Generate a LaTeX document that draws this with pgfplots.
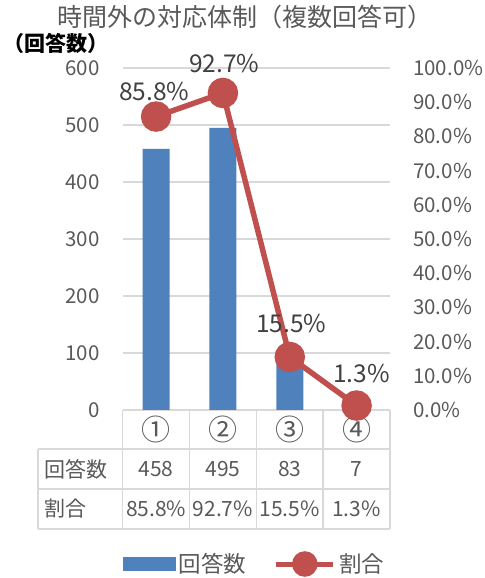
\documentclass[border=0pt]{standalone}
\usepackage{fontspec}
\setmainfont{Noto Sans CJK JP}
\usepackage{pgfplots}
\pgfplotsset{compat=1.18}
\definecolor{barblue}{HTML}{4F81BD}
\definecolor{linered}{HTML}{C0504D}
\definecolor{txt}{HTML}{595959}
\definecolor{lbl}{HTML}{404040}
\definecolor{gridc}{HTML}{D9D9D9}
\begin{document}
\begin{tikzpicture}[x=1bp,y=1bp]
\useasboundingbox (0,0) rectangle (485,578);
% title and axis label
\node[txt, font=\fontsize{25bp}{30bp}\selectfont, inner sep=0] at (245,561) {時間外の対応体制（複数回答可）};
\node[black, font=\fontsize{21bp}{25bp}\selectfont\bfseries, anchor=west, inner sep=0] at (3,534) {（回答数）};
% data table grid
\begin{scope}[gridc, line width=1.5bp]
\draw (122.7,168) -- (390,168);
\draw (38,129) -- (390,129);
\draw (38,89) -- (390,89);
\draw (38,49) -- (390,49);
\draw (38,129) -- (38,49);
\foreach \xx in {122.7,189.5,256.3,323.2,390} {\draw (\xx,168) -- (\xx,49);}
\end{scope}
\begin{scope}[txt, font=\fontsize{21bp}{25bp}\selectfont, inner sep=0]
\node[anchor=west] at (44,109) {回答数};
\node[anchor=west] at (44,69) {割合};
\node at (156.1,109) {458};
\node at (222.9,109) {495};
\node at (289.7,109) {83};
\node at (356.5,109) {7};
\node at (156.1,69) {85.8\%};
\node at (222.9,69) {92.7\%};
\node at (289.7,69) {15.5\%};
\node at (356.5,69) {1.3\%};
\end{scope}
\begin{axis}[
  at={(122.7bp,168bp)}, anchor=south west,
  scale only axis, width=267.3bp, height=342bp,
  xmin=-0.5, xmax=3.5, ymin=0, ymax=600,
  axis line style={draw=none},
  major tick length=0,
  ytick={0,100,...,600}, ytick pos=left,
  ymajorgrids, grid style={gridc, line width=1.2bp},
  xtick={0,1,2,3}, xticklabels={①,②,③,④}, xtick pos=bottom,
  xticklabel style={anchor=center, yshift=-19.5bp, inner sep=0, txt, font=\fontsize{29bp}{32bp}\selectfont},
  yticklabel style={anchor=east, inner sep=0, xshift=-23bp, txt, font=\fontsize{20.5bp}{24bp}\selectfont},
  /pgf/number format/assume math mode=true,
  clip=false,
]
\addplot[ybar, bar width=27bp, fill=barblue, draw=none] coordinates {(0,458) (1,495) (2,83) (3,7)};
\end{axis}
\begin{axis}[
  at={(122.7bp,168bp)}, anchor=south west,
  scale only axis, width=267.3bp, height=342bp,
  xmin=-0.5, xmax=3.5, ymin=0, ymax=100,
  axis line style={draw=none},
  major tick length=0,
  xtick=\empty,
  ytick={0,10,...,100}, ytick pos=right,
  yticklabel={\pgfmathprintnumber[fixed,fixed zerofill,precision=1]{\tick}\%},
  yticklabel style={anchor=west, inner sep=0, xshift=23bp, txt, font=\fontsize{20.5bp}{24bp}\selectfont},
  /pgf/number format/assume math mode=true,
  clip=false,
  legend columns=2,
  legend style={at={(0,-0.4503)}, anchor=west, draw=none, fill=none, inner sep=0,
    font=\fontsize{22.5bp}{26bp}\selectfont, text=txt,
    nodes={inner sep=0, inner xsep=3.5bp},
    /tikz/every even column/.append style={column sep=24bp}},
]
\addlegendimage{legend image code/.code={\fill[barblue] (0bp,-6.5bp) rectangle (52bp,6.5bp);}}
\addlegendentry{回答数}
\addplot[linered, line width=5.5bp, mark=*, mark size=12.5bp, mark options={fill=linered, draw=none},
  legend image code/.code={\draw[linered, line width=5bp] (0bp,0bp) -- (57bp,0bp); \fill[linered] (28.5bp,0bp) circle (10bp);}]
  coordinates {(0,85.8) (1,92.7) (2,15.5) (3,1.3)};
\addlegendentry{割合}
\begin{scope}[lbl, font=\fontsize{24.5bp}{28bp}\selectfont, inner sep=0]
\node[xshift=-2bp, yshift=25bp] at (axis cs:0,85.8) {85.8\%};
\node[xshift=1.5bp, yshift=29bp] at (axis cs:1,92.7) {92.7\%};
\node[xshift=1.5bp, yshift=33bp] at (axis cs:2,15.5) {15.5\%};
\node[xshift=5bp, yshift=32bp] at (axis cs:3,1.3) {1.3\%};
\end{scope}
\end{axis}
\end{tikzpicture}
\end{document}
